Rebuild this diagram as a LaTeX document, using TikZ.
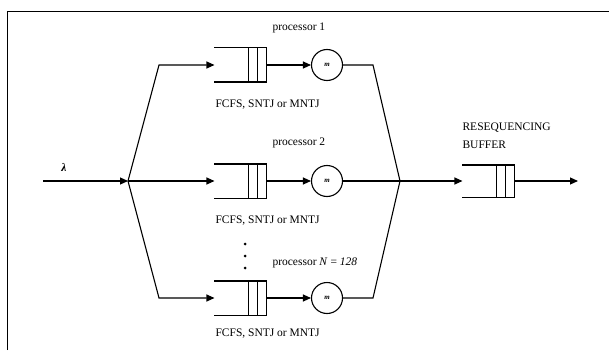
\documentclass[tikz,border=0pt]{standalone}
\usepackage{fontspec}
\setmainfont{Liberation Serif}
\usepackage{tikz}
\usetikzlibrary{arrows.meta,calc}

\begin{document}
\begin{tikzpicture}[
  x=1pt, y=-1pt,
  font=\fontsize{11.5}{13.5}\selectfont,
  line width=1.1pt,
  queue/.style={minimum width=51pt, minimum height=33pt, inner sep=0pt},
  srv/.style={draw, circle, minimum size=31pt, inner sep=0pt, font=\scriptsize\bfseries\itshape},
  lbl/.style={anchor=west, inner sep=0pt},
  arr/.style={-{Triangle[length=8pt,width=7pt]}},
]
\useasboundingbox (0,0) rectangle (609,350);
% frame (open at right and bottom)
\draw (7.5,350) -- (7.5,11.5) -- (609,11.5);
% ================= PROCESSORS =================
\node[queue] (q1) at (240.5,65) {};
\node[queue] (q2) at (240.5,181) {};
\node[queue] (q3) at (240.5,298) {};
\node[srv] (s1) at (327,65) {m};
\node[srv] (s2) at (327,181) {m};
\node[srv] (s3) at (327,298) {m};
\node[lbl] (p1) at (272,28) {processor 1};
\node[lbl] (f1) at (215,105) {FCFS, SNTJ or MNTJ};
\node[lbl] (p2) at (272,143) {processor 2};
\node[lbl] (f2) at (215,221) {FCFS, SNTJ or MNTJ};
\node[lbl] (pN) at (272,263) {processor \textit{N} = \textit{128}};
\node[lbl] (f3) at (215,334) {FCFS, SNTJ or MNTJ};
\foreach \y in {244,256,268} \fill (245,\y) circle (1.5);
% ================= RESEQUENCING =================
\node[queue, minimum height=31pt] (rb) at (488.5,181) {};
\node[lbl, align=left] (rbt) at (462,135.5) {RESEQUENCING\\[4pt]BUFFER};
% queue outlines
\foreach \q in {q1,q2,q3,rb} {
  \draw (\q.north west) -- (\q.north east) -- (\q.south east) -- (\q.south west);
  \draw ($(\q.north east)+(-9,0)$) -- ($(\q.south east)+(-9,0)$);
  \draw ($(\q.north east)+(-18,0)$) -- ($(\q.south east)+(-18,0)$);
}
% ================= CONNECTORS =================
\node (lam) at (64,167) {\textbf{\textit{λ}}};
\coordinate (in) at (43,181);
\coordinate (split) at (128,181);
\coordinate (tl) at (159,65);
\coordinate (bl) at (159,298);
\coordinate (tr) at (373,65);
\coordinate (br) at (373,298);
\coordinate (merge) at (400,181);
\coordinate (out) at (578,181);
\draw[arr] (in) -- (split);
\draw[arr] (split) -- (tl) -- (q1.west);
\draw[arr] (split) -- (q2.west);
\draw[arr] (split) -- (bl) -- (q3.west);
\foreach \i in {1,2,3} \draw[arr] (q\i.east) -- (s\i.west);
\draw (s1.east) -- (tr) -- (merge);
\draw (s2.east) -- (merge);
\draw (s3.east) -- (br) -- (merge);
\draw[arr] (merge) -- (rb.west);
\draw[arr] (rb.east) -- (out);
\end{tikzpicture}
\end{document}
